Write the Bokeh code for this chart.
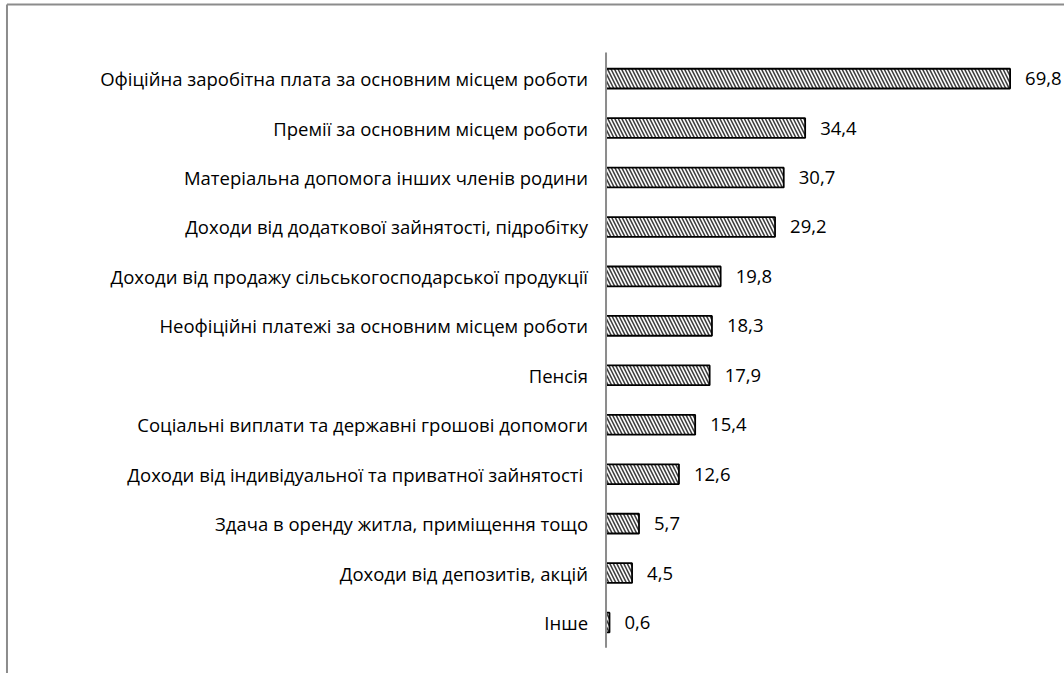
from bokeh.plotting import figure
from bokeh.models import Range1d, ColumnDataSource
from bokeh.core.properties import value
from bokeh.embed import file_html
from bokeh.resources import INLINE

categories = [
    "Офіційна заробітна плата за основним місцем роботи",
    "Премії за основним місцем роботи",
    "Матеріальна допомога інших членів родини",
    "Доходи від додаткової зайнятості, підробітку",
    "Доходи від продажу сільськогосподарської продукції",
    "Неофіційні платежі за основним місцем роботи",
    "Пенсія",
    "Соціальні виплати та державні грошові допомоги",
    "Доходи від індивідуальної  та приватної зайнятості",
    "Здача в оренду житла, приміщення тощо",
    "Доходи від депозитів, акцій",
    "Інше",
]
values = [69.8, 34.4, 30.7, 29.2, 19.8, 18.3, 17.9, 15.4, 12.6, 5.7, 4.5, 0.6]
value_labels = ["69,8", "34,4", "30,7", "29,2", "19,8", "18,3", "17,9", "15,4", "12,6", "5,7", "4,5", "0,6"]

n = len(categories)
pos = [n - 1 - i for i in range(n)]
src = ColumnDataSource(dict(y=pos, v=values, cat=categories, lab=value_labels, zero=[0] * n))

FONT = "Open Sans"
FS = "18.5px"

X0, X1 = -104.6, 79.2
Y0, Y1 = -1.031, 12.58

p = figure(width=1064, height=673, output_backend="svg", toolbar_location=None,
           x_range=Range1d(X0, X1), y_range=Range1d(Y0, Y1),
           min_border=0, min_border_left=0, min_border_right=0,
           min_border_top=0, min_border_bottom=0)
p.axis.visible = False
p.grid.visible = False
p.outline_line_color = None
p.background_fill_color = "white"
p.border_fill_color = "white"

p.hbar(y="y", left=0, right="v", height=0.40, source=src,
       fill_color="white", line_color="black", line_width=1.8,
       hatch_pattern="\\", hatch_color="#404040", hatch_scale=7, hatch_weight=1.6)

# vertical axis line
p.segment(x0=[0], y0=[-0.51], x1=[0], y1=[n - 0.47], line_color="#8c8c8c", line_width=2)

# chart-area border (left and top)
p.segment(x0=[-103.48, -103.48], y0=[Y0, 12.497], x1=[-103.48, X1], y1=[12.497, 12.497],
          line_color="#8c8c8c", line_width=2)

p.text(x="zero", y="y", text="cat", source=src, x_offset=-18, text_align="right",
       text_baseline="middle", text_font=value(FONT), text_font_size=FS, text_color="black")
p.text(x="v", y="y", text="lab", source=src, x_offset=15, text_align="left",
       text_baseline="middle", text_font=value(FONT), text_font_size=FS, text_color="black")

open("out.html", "w").write(file_html(p, INLINE))
